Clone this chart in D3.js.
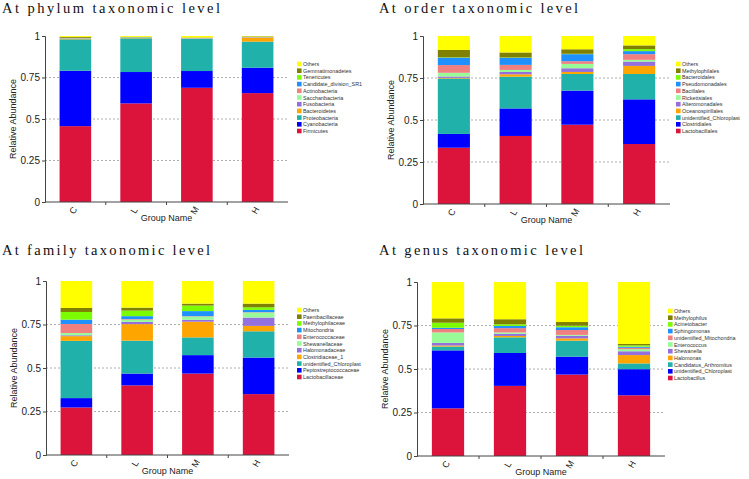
<!DOCTYPE html>
<html>
<head>
<meta charset="utf-8">
<script src="https://cdn.jsdelivr.net/npm/d3@7"></script>
<style>
  html, body { margin: 0; padding: 0; background: #fff; }
  svg { display: block; }
</style>
</head>
<body>
<svg id="chart" width="749" height="479"></svg>
<script>
// ---------------- DATA ----------------
const groups = ["C", "L", "M", "H"];
const yTicks = [0, 0.25, 0.5, 0.75, 1];
const yTickLabels = ["0", "0.25", "0.5", "0.75", "1"];

// series listed bottom-to-top of each stack
const phylumSeries = ["Firmicutes", "Cyanobacteria", "Proteobacteria", "Bacteroidetes", "Fusobacteria",
  "Saccharibacteria", "Actinobacteria", "Candidate_division_SR1", "Tenericutes", "Gemmatimonadetes", "Others"];
const phylumValues = [
  [0.457, 0.334, 0.189, 0.004, 0.001, 0.001, 0.001, 0.001, 0.001, 0.006, 0.005],
  [0.594, 0.189, 0.203, 0.002, 0.001, 0.001, 0.001, 0.001, 0.001, 0.002, 0.005],
  [0.688, 0.101, 0.193, 0.002, 0.001, 0.001, 0.001, 0.001, 0.001, 0.002, 0.009],
  [0.656, 0.153, 0.157, 0.024, 0.001, 0.001, 0.001, 0.001, 0.001, 0.003, 0.002]
];

const orderSeries = ["Lactobacillales", "Clostridiales", "unidentified_Chloroplast", "Oceanospirillales",
  "Alteromonadales", "Rickettsiales", "Bacillales", "Pseudomonadales", "Bacteroidales", "Methylophilales", "Others"];
const orderValues = [
  [0.335, 0.082, 0.330, 0.004, 0.008, 0.022, 0.046, 0.044, 0.002, 0.044, 0.083],
  [0.405, 0.164, 0.189, 0.014, 0.014, 0.012, 0.030, 0.042, 0.002, 0.030, 0.098],
  [0.472, 0.203, 0.099, 0.012, 0.022, 0.026, 0.016, 0.042, 0.002, 0.027, 0.079],
  [0.357, 0.266, 0.151, 0.048, 0.026, 0.010, 0.034, 0.018, 0.012, 0.022, 0.056]
];

const familySeries = ["Lactobacillaceae", "Peptostreptococcaceae", "unidentified_Chloroplast", "Clostridiaceae_1",
  "Halomonadaceae", "Shewanellaceae", "Enterococcaceae", "Mitochondria", "Methylophilaceae", "Paenibacillaceae", "Others"];
const familyValues = [
  [0.273, 0.054, 0.329, 0.027, 0.005, 0.013, 0.052, 0.025, 0.044, 0.023, 0.155],
  [0.400, 0.068, 0.189, 0.095, 0.013, 0.013, 0.003, 0.017, 0.032, 0.017, 0.153],
  [0.468, 0.106, 0.102, 0.090, 0.011, 0.019, 0.002, 0.029, 0.032, 0.011, 0.130],
  [0.350, 0.210, 0.151, 0.031, 0.048, 0.029, 0.002, 0.013, 0.015, 0.021, 0.130]
];

const genusSeries = ["Lactobacillus", "unidentified_Chloroplast", "Candidatus_Arthromitus", "Halomonas",
  "Shewanella", "Enterococcus", "unidentified_Mitochondria", "Sphingomonas", "Acinetobacter", "Methylophilus", "Others"];
const genusValues = [
  [0.274, 0.333, 0.022, 0.006, 0.015, 0.060, 0.020, 0.007, 0.029, 0.025, 0.209],
  [0.403, 0.189, 0.090, 0.008, 0.012, 0.008, 0.025, 0.012, 0.010, 0.029, 0.214],
  [0.468, 0.103, 0.092, 0.013, 0.015, 0.005, 0.028, 0.016, 0.009, 0.021, 0.230],
  [0.349, 0.150, 0.033, 0.048, 0.022, 0.012, 0.008, 0.006, 0.008, 0.008, 0.356]
];

// ---------------- STYLE / LAYOUT ----------------
const palette = ["#DC143C", "#0000FF", "#20B2AA", "#FFA500", "#9370DB", "#98FB98",
  "#F08080", "#1E90FF", "#7CFC00", "#808000", "#FFFF00"];

const panels = [
  { title: "At phylum taxonomic level", series: phylumSeries, values: phylumValues,
    x0: 45, x1: 288, yTop: 36, yBot: 202, legX: 297, legY: 64, tX: 2, tY: 13, tLen: 218 },
  { title: "At order taxonomic level", series: orderSeries, values: orderValues,
    x0: 423, x1: 670, yTop: 36, yBot: 204, legX: 676, legY: 64, tX: 379, tY: 13, tLen: 199 },
  { title: "At family taxonomic level", series: familySeries, values: familyValues,
    x0: 46, x1: 289, yTop: 281, yBot: 455, legX: 297, legY: 310, tX: 2, tY: 255, tLen: 208 },
  { title: "At genus taxonomic level", series: genusSeries, values: genusValues,
    x0: 417, x1: 665, yTop: 282, yBot: 456, legX: 668, legY: 311, tX: 379, tY: 255, tLen: 204 }
];

const svg = d3.select("#chart");
const axisColor = "#444";

panels.forEach(p => {
  const g = svg.append("g");

  // title
  g.append("text")
    .attr("x", p.tX).attr("y", p.tY)
    .attr("font-family", "'Liberation Serif', 'Times New Roman', serif")
    .attr("font-size", 14.5)
    .attr("textLength", p.tLen)
    .attr("lengthAdjust", "spacing")
    .attr("fill", "#111")
    .text(p.title);

  const x = d3.scaleBand().domain(groups).range([p.x0, p.x1]).paddingInner(0.48).paddingOuter(0.24);
  const y = d3.scaleLinear().domain([0, 1]).range([p.yBot, p.yTop]);

  // gridlines
  g.append("g").selectAll("line").data(yTicks.filter(t => t > 0 && t < 1)).join("line")
    .attr("x1", p.x0).attr("x2", p.x1)
    .attr("y1", d => y(d)).attr("y2", d => y(d))
    .attr("stroke", "#999").attr("stroke-width", 0.8).attr("stroke-dasharray", "2,2");

  // stacked data
  const rows = groups.map((grp, gi) => {
    const r = { group: grp };
    p.series.forEach((s, si) => { r[s] = p.values[gi][si]; });
    return r;
  });
  const stacked = d3.stack().keys(p.series)(rows);
  const color = d3.scaleOrdinal().domain(p.series).range(palette);

  g.append("g").selectAll("g").data(stacked).join("g")
    .attr("fill", d => color(d.key))
    .selectAll("rect").data(d => d).join("rect")
      .attr("x", d => x(d.data.group))
      .attr("width", x.bandwidth())
      .attr("y", d => y(d[1]))
      .attr("height", d => y(d[0]) - y(d[1]));

  // y axis
  const yAxis = d3.axisLeft(y).tickValues(yTicks)
    .tickFormat((d, i) => yTickLabels[i]).tickSize(3).tickPadding(2);
  const ya = g.append("g").attr("transform", `translate(${p.x0},0)`).call(yAxis);
  ya.select(".domain").attr("stroke", axisColor);
  ya.selectAll(".tick line").attr("stroke", axisColor);
  ya.selectAll(".tick text").attr("font-family", "'Liberation Sans', Arial, sans-serif")
    .attr("font-size", 10).attr("fill", "#222");

  // x axis line + ticks between bands
  g.append("line").attr("x1", p.x0).attr("x2", p.x1)
    .attr("y1", p.yBot).attr("y2", p.yBot)
    .attr("stroke", axisColor).attr("stroke-width", 1);
  const step = x.step();
  const bounds = groups.map((grp, i) => p.x0 + step * (i + 1)).slice(0, groups.length - 1);
  g.append("g").selectAll("line").data(bounds).join("line")
    .attr("x1", d => d).attr("x2", d => d)
    .attr("y1", p.yBot).attr("y2", p.yBot + 3)
    .attr("stroke", axisColor);

  // x labels (rotated)
  g.append("g").selectAll("text").data(groups).join("text")
    .attr("transform", d => `translate(${x(d) + x.bandwidth() / 2 - 2},${p.yBot + 8.5}) rotate(-60)`)
    .attr("text-anchor", "middle")
    .attr("dominant-baseline", "central")
    .attr("font-family", "'Liberation Sans', Arial, sans-serif")
    .attr("font-size", 9).attr("fill", "#222")
    .text(d => d);

  // axis titles
  g.append("text")
    .attr("x", (p.x0 + p.x1) / 2).attr("y", p.yBot + 19)
    .attr("text-anchor", "middle")
    .attr("font-family", "'Liberation Sans', Arial, sans-serif")
    .attr("font-size", 9).attr("fill", "#222")
    .text("Group Name");
  g.append("text")
    .attr("transform", `translate(${p.x0 - 29},${(p.yTop + p.yBot) / 2}) rotate(-90)`)
    .attr("text-anchor", "middle")
    .attr("font-family", "'Liberation Sans', Arial, sans-serif")
    .attr("font-size", 9).attr("fill", "#222")
    .text("Relative Abundance");

  // legend (top = Others)
  const legendItems = p.series.slice().reverse();
  const lg = g.append("g").attr("transform", `translate(${p.legX},${p.legY})`);
  const items = lg.selectAll("g").data(legendItems).join("g")
    .attr("transform", (d, i) => `translate(0,${i * 6.7})`);
  items.append("rect").attr("x", 0).attr("y", -2.3).attr("width", 4.6).attr("height", 4.6)
    .attr("fill", d => color(d));
  items.append("text").attr("x", 6).attr("y", 0)
    .attr("dominant-baseline", "central")
    .attr("font-family", "'Liberation Sans', Arial, sans-serif")
    .attr("font-size", 5.4).attr("fill", "#333")
    .text(d => d);
});
</script>
</body>
</html>
